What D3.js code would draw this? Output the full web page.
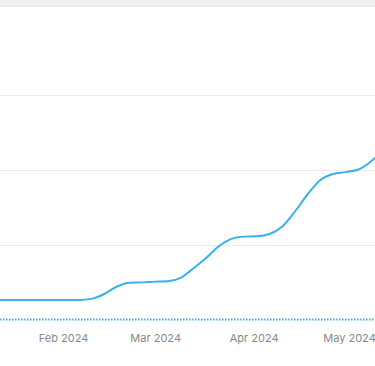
<!DOCTYPE html>
<html>
<head>
<meta charset="utf-8">
<script src="https://cdn.jsdelivr.net/npm/d3@7"></script>
<style>
  body { margin: 0; background: #fff; overflow: hidden; }
  svg { display: block; }
</style>
</head>
<body>
<div id="chart"></div>
<script>
// points every 4 days
const dates = ["2024-01-09", "2024-01-13", "2024-01-17", "2024-01-21", "2024-01-25", "2024-01-29",
  "2024-02-02", "2024-02-06", "2024-02-10", "2024-02-14", "2024-02-18", "2024-02-22", "2024-02-26",
  "2024-03-01", "2024-03-05", "2024-03-09", "2024-03-13", "2024-03-17", "2024-03-21", "2024-03-25",
  "2024-03-29", "2024-04-02", "2024-04-06", "2024-04-10", "2024-04-14", "2024-04-18", "2024-04-22",
  "2024-04-26", "2024-04-30", "2024-05-04", "2024-05-08", "2024-05-12"];
const values = [26, 26, 26, 26, 26, 26,
  26, 26, 27.5, 34, 44, 49, 49.5,
  50.5, 51, 55.5, 68, 82, 97.5, 107.5,
  110.5, 111, 114, 124, 144, 167, 186,
  194, 196.5, 200, 211, 228];
const yTicks = [0, 100, 200, 300];
const baseline = 0;
const monthTicks = ["2024-02-01", "2024-03-01", "2024-04-01", "2024-05-01"];

const width = 375, height = 366;
const parse = d3.utcParse("%Y-%m-%d");
const data = dates.map((d, i) => ({ date: parse(d), value: values[i] }));

const svg = d3.select("#chart").append("svg")
  .attr("width", width)
  .attr("height", height);

// visible window is a crop of a longer chart
const x = d3.scaleUtc()
  .domain([parse("2024-02-01"), parse("2024-05-01")])
  .range([63, 349]);

const y = d3.scaleLinear()
  .domain([0, 300])
  .range([319.5, 94.5]);

// grid
svg.append("g")
  .selectAll("line")
  .data(yTicks.filter(d => d > 0))
  .join("line")
    .attr("x1", 0)
    .attr("x2", width)
    .attr("y1", d => Math.round(y(d)) + 0.5)
    .attr("y2", d => Math.round(y(d)) + 0.5)
    .attr("stroke", "#ececec")
    .attr("stroke-width", 1);

// top bar
svg.append("rect")
  .attr("x", 0).attr("y", 0)
  .attr("width", width).attr("height", 6)
  .attr("fill", "#f0f0f0");
svg.append("line")
  .attr("x1", 0).attr("x2", width)
  .attr("y1", 6.5).attr("y2", 6.5)
  .attr("stroke", "#e4e4e4");

// dotted baseline
svg.append("line")
  .attr("x1", 0).attr("x2", width)
  .attr("y1", y(baseline)).attr("y2", y(baseline))
  .attr("stroke", "#38b2e8")
  .attr("stroke-width", 2)
  .attr("stroke-dasharray", "1.5,1.5");

const line = d3.line()
  .x(d => x(d.date))
  .y(d => y(d.value))
  .curve(d3.curveMonotoneX);

svg.append("path")
  .datum(data)
  .attr("d", line)
  .attr("fill", "none")
  .attr("stroke", "#38b2e8")
  .attr("stroke-width", 2);

// month labels
const xAxis = d3.axisBottom(x)
  .tickValues(monthTicks.map(parse))
  .tickFormat(d3.utcFormat("%b %Y"))
  .tickSize(0)
  .tickPadding(0);

const gx = svg.append("g")
  .attr("transform", "translate(0,334)")
  .call(xAxis);
gx.select(".domain").remove();
gx.selectAll("text")
  .attr("dy", "0.71em")
  .attr("fill", "#888")
  .style("font-family", "Inter, sans-serif")
  .style("font-size", "11px");
</script>
</body>
</html>
